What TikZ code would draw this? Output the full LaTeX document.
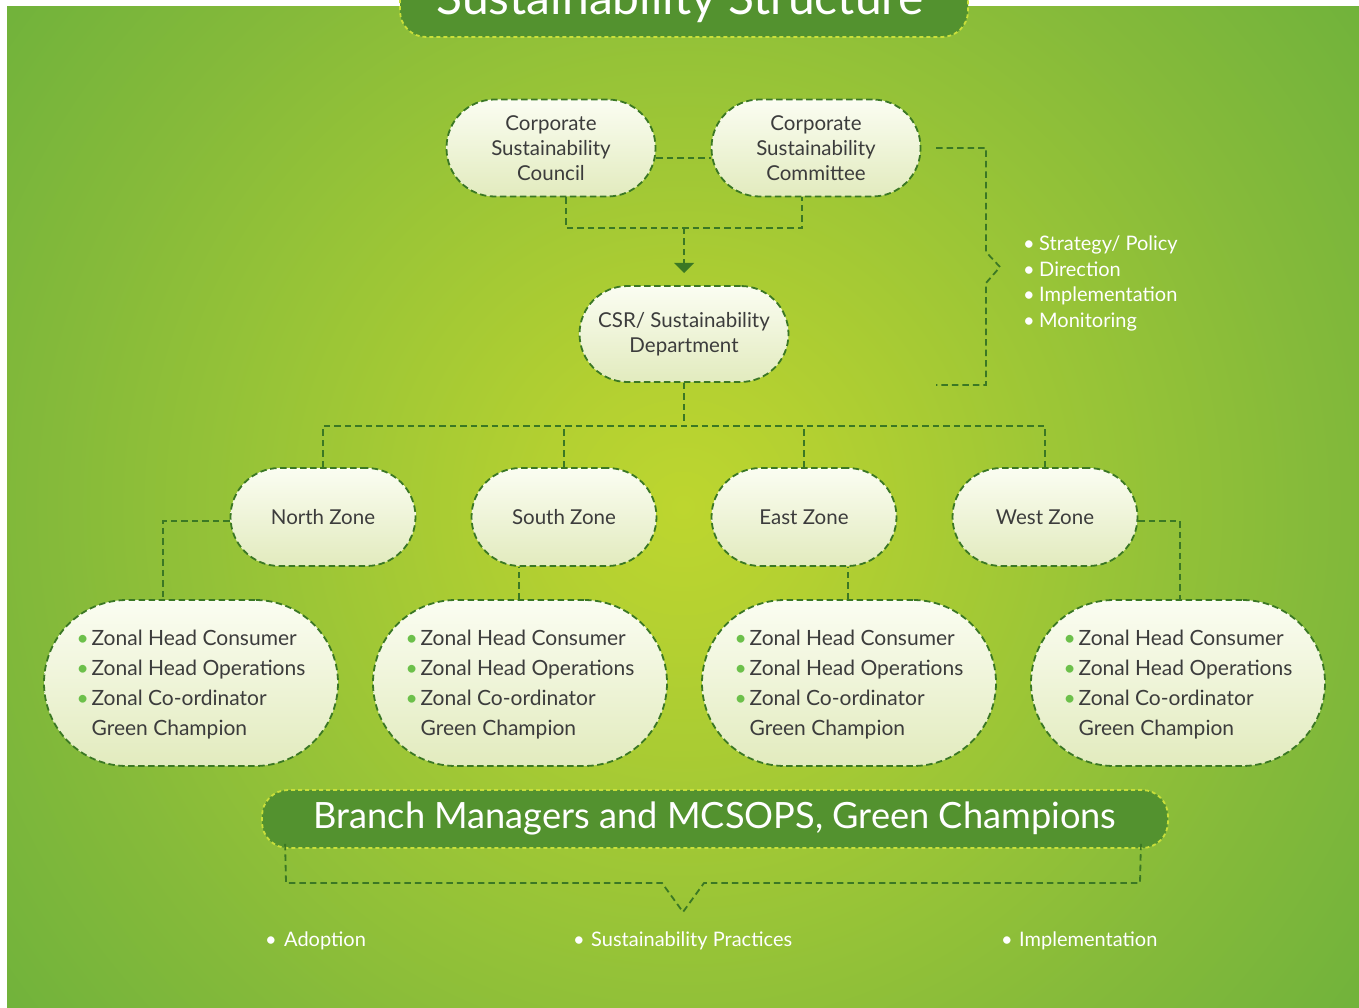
\documentclass[tikz,border=0pt]{standalone}
\usepackage{fontspec}
\setmainfont{Lato}
\usetikzlibrary{calc}

\definecolor{bgcore}{HTML}{BDD62F}
\definecolor{bgmidA}{HTML}{B3D031}
\definecolor{bgmidB}{HTML}{98C437}
\definecolor{bgmidC}{HTML}{85BA3A}
\definecolor{bgmidD}{HTML}{6AB03C}
\definecolor{bgedge}{HTML}{63AC3C}
\definecolor{lnk}{HTML}{3B7824}
\definecolor{txt}{HTML}{3C3C3C}
\definecolor{bul}{HTML}{6CC04A}
\definecolor{bar}{HTML}{53922F}
\definecolor{barline}{HTML}{C9DF3A}
\definecolor{pilltop}{HTML}{FBFDF2}
\definecolor{pillbot}{HTML}{E2EBBE}

% radial glow; radii are given for a shading that spans the square's diagonal
\pgfdeclareradialshading{glow}{\pgfpoint{0bp}{0bp}}{%
  color(0bp)=(bgcore); color(5bp)=(bgmidA); color(14.8bp)=(bgmidB);
  color(21.9bp)=(bgmidC); color(31.8bp)=(bgmidD); color(35.4bp)=(bgedge);
  color(50bp)=(bgedge)}

% bullets used in the lists
\newcommand\gdot{\makebox[15pt][l]{\textcolor{bul}{\textbullet}}}
\newcommand\wdot[1]{\makebox[#1][l]{\textbullet}}

\tikzset{
  link/.style={draw=lnk, line width=1.8pt, dash pattern=on 6.5pt off 4pt},
  pill/.style={top color=pilltop, bottom color=pillbot, draw=lnk, line width=1.8pt,
    dash pattern=on 6.5pt off 3.5pt, inner sep=0pt, text=txt, align=center},
  toppill/.style={pill, minimum width=209pt, minimum height=97pt, rounded corners=48pt,
    font=\fontsize{20.5}{25}\selectfont},
  zonepill/.style={pill, minimum width=185pt, minimum height=98pt, rounded corners=49pt,
    font=\fontsize{20.5}{25}\selectfont},
  rolepill/.style={pill, minimum width=294pt, minimum height=166pt, rounded corners=83pt,
    align=left, text depth=-2pt, font=\fontsize{21}{30}\selectfont},
  darkbar/.style={fill=bar, draw=barline, line width=1.8pt, dash pattern=on 4pt off 3pt,
    inner sep=0pt, text=white},
  note/.style={text=white, inner sep=0pt, anchor=west, align=left,
    font=\fontsize{20}{25.7}\selectfont},
}

\begin{document}
\begin{tikzpicture}[x=1pt,y=-1pt]
\useasboundingbox (0,0) rectangle (1359,1008);
\clip (0,0) rectangle (1359,1008);
\fill[white] (0,0) rectangle (1359,1008);

% green backdrop with a soft glow in the middle
\begin{scope}
  \clip (7,7) rectangle (1359,1008);
  \shade[shading=glow] (-37,-213) rectangle (1403,1227);
\end{scope}

% heading tab
\node[darkbar, minimum width=568pt, minimum height=74pt, rounded corners=26pt] (title) at (684,0) {};
\node[text=white, inner sep=0pt, anchor=base, font=\fontsize{48}{54}\selectfont] (titletext) at (680,15) {Sustainability Structure};

% top level
\node[toppill] (council) at (551,148) {Corporate\\Sustainability\\Council};
\node[toppill] (committee) at (816,148) {Corporate\\Sustainability\\Committee};
\node[toppill, minimum height=96pt] (csr) at (684,334) {CSR/ Sustainability\\Department};

% zones
\node[zonepill] (north) at (323,517) {North Zone};
\node[zonepill] (south) at (564,517) {South Zone};
\node[zonepill] (east)  at (804,517) {East Zone};
\node[zonepill] (west)  at (1045,517) {West Zone};

% zonal roles
\node[rolepill] (nrole) at (191,683) {\gdot Zonal Head Consumer\\\gdot Zonal Head Operations\\\gdot Zonal Co-ordinator\\\phantom{\gdot}Green Champion};
\node[rolepill] (srole) at (520,683) {\gdot Zonal Head Consumer\\\gdot Zonal Head Operations\\\gdot Zonal Co-ordinator\\\phantom{\gdot}Green Champion};
\node[rolepill] (erole) at (849,683) {\gdot Zonal Head Consumer\\\gdot Zonal Head Operations\\\gdot Zonal Co-ordinator\\\phantom{\gdot}Green Champion};
\node[rolepill] (wrole) at (1178,683) {\gdot Zonal Head Consumer\\\gdot Zonal Head Operations\\\gdot Zonal Co-ordinator\\\phantom{\gdot}Green Champion};

% branch banner
\node[darkbar, minimum width=906pt, minimum height=58pt, rounded corners=26pt,
  font=\fontsize{36.2}{40}\selectfont, text height=24pt, text depth=6pt] (banner) at (715,819)
  {Branch Managers and MCSOPS, Green Champions};

% side notes
\node[note] (aims) at (1023,283.5) {\wdot{16pt}Strategy/ Policy\\\wdot{16pt}Direction\\\wdot{16pt}Implementation\\\wdot{16pt}Monitoring};
\node[note] (adopt) at (265,941) {\wdot{19pt}Adoption};
\node[note] (practice) at (573,941) {\wdot{18pt}Sustainability Practices};
\node[note] (implement) at (1001,941) {\wdot{18pt}Implementation};

% connectors
\coordinate (join) at (684,228);
\draw[link] ([yshift=-10pt]council.east) -- ([yshift=-10pt]committee.west);
\draw[link] ([xshift=15pt]council.south) |- (join) -| ([xshift=-14pt]committee.south);
\coordinate (tip) at (684,273);
\draw[link] (join) -- (684,264);
\fill[lnk] (674,263) -- (694,263) -- (tip) -- cycle;

\coordinate (bus) at (684,426);
\draw[link] (csr.south) -- (bus);
\draw[link] (north.north) |- (bus) -| (west.north);
\draw[link] (south.north) -- (south.north |- bus);
\draw[link] (east.north) -- (east.north |- bus);

\draw[link] ([yshift=-4pt]north.west) -| ([xshift=-28pt]nrole.north);
\draw[link] ([xshift=-1pt]srole.north) -- ([xshift=-1pt]srole.north |- south.south);
\draw[link] ([xshift=-1pt]erole.north) -- ([xshift=-1pt]erole.north |- east.south);
\draw[link] ([yshift=-4pt]west.east) -| ([xshift=2pt]wrole.north);

% brace gathering the top level
\coordinate (braceA) at (936,148);
\coordinate (braceB) at (936,385);
\draw[link] (braceA) -| (986,252) -- (1000,267) -- (986,283) |- (braceB);

% brace under the banner
\draw[link] ([xshift=24pt,yshift=5pt]banner.south west) -- (286,883) -- (662,883)
  -- (683,912) -- (704,883) -- (1140,883) -- ([xshift=-28pt,yshift=5pt]banner.south east);
\end{tikzpicture}
\end{document}
